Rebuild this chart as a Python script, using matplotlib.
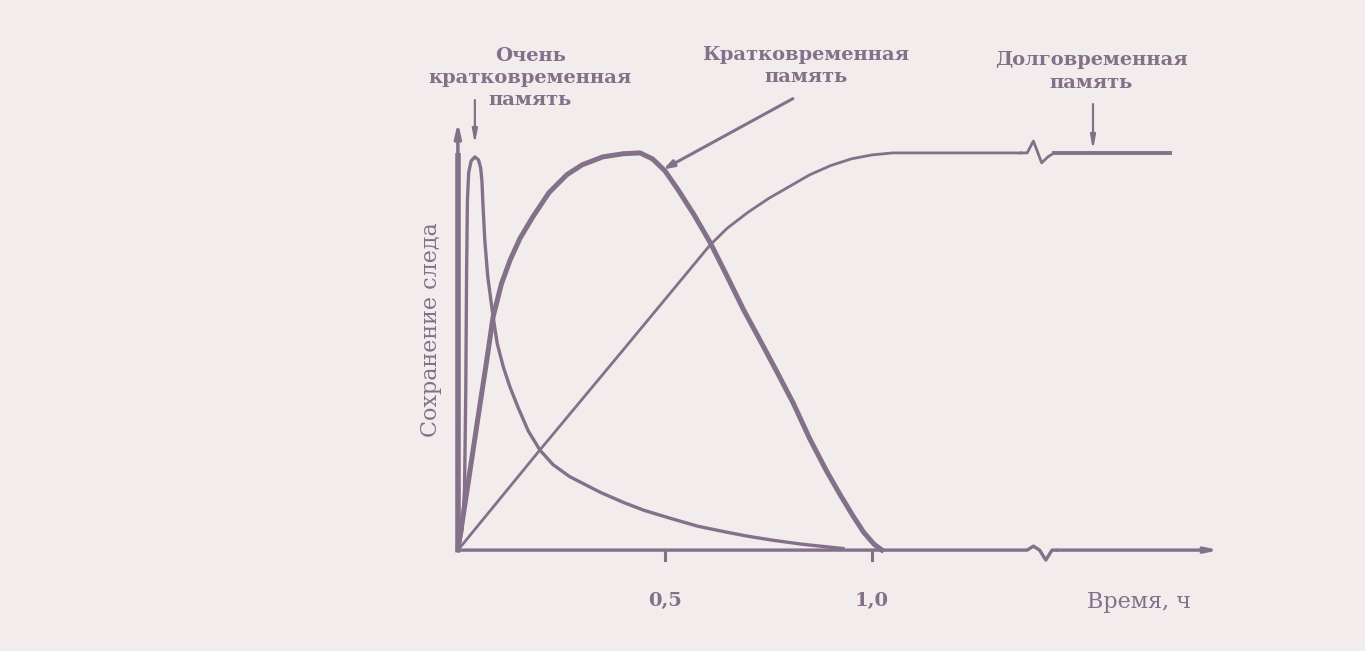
import matplotlib.pyplot as plt

# very short-term memory curve
vs_t = [0, 0.01, 0.016, 0.019, 0.021, 0.023, 0.026, 0.032, 0.041, 0.05, 0.055, 0.058, 0.061,
        0.065, 0.072, 0.085, 0.095, 0.11, 0.126, 0.145, 0.17, 0.198, 0.23, 0.27, 0.343,
        0.4, 0.45, 0.52, 0.58, 0.65, 0.7, 0.76, 0.83, 0.93]
vs_v = [0, 0.05, 0.15, 0.4, 0.7, 0.88, 0.95, 0.98, 0.99, 0.982, 0.962, 0.93, 0.86,
        0.78, 0.69, 0.587, 0.52, 0.46, 0.41, 0.36, 0.3, 0.252, 0.215, 0.185, 0.146,
        0.12, 0.1, 0.078, 0.06, 0.045, 0.035, 0.025, 0.015, 0.004]

# short-term memory curve
st_t = [0, 0.022, 0.048, 0.07, 0.085, 0.105, 0.126, 0.15, 0.181, 0.22, 0.263, 0.3, 0.35, 0.4,
        0.44, 0.47, 0.5, 0.53, 0.57, 0.609, 0.65, 0.69, 0.729, 0.77, 0.81, 0.85, 0.89, 0.923,
        0.955, 0.98, 1.005, 1.024]
st_v = [0, 0.15, 0.33, 0.48, 0.587, 0.67, 0.73, 0.785, 0.839, 0.9, 0.945, 0.97, 0.99, 0.998,
        1.0, 0.985, 0.955, 0.91, 0.845, 0.775, 0.69, 0.605, 0.53, 0.45, 0.37, 0.28, 0.2, 0.14,
        0.085, 0.045, 0.015, 0.0]

# long-term memory curve (before and after the break)
lt_t = [0, 0.198, 0.4, 0.609, 0.65, 0.7, 0.75, 0.8, 0.85, 0.9, 0.95, 1.0, 1.05, 1.36]
lt_v = [0, 0.252, 0.505, 0.768, 0.81, 0.85, 0.885, 0.915, 0.945, 0.968, 0.985, 0.995, 1.0, 1.0]
lt2_t = [1.44, 1.72]
lt2_v = [1.0, 1.0]

tick_pos = [0.5, 1.0]
tick_labels = ['0,5', '1,0']

ink = '#83718a'
paper = '#f3ecec'
plt.rcParams['font.family'] = ['DejaVu Serif']

fig = plt.figure(figsize=(13.65, 6.51), dpi=100, facecolor=paper)
ax = fig.add_axes([0, 0, 1, 1])
ax.set_facecolor(paper)
ax.set_xlim(-1.106, 2.191)
ax.set_ylim(-0.254, 1.385)
ax.axis('off')

# axes
ax.plot([0, 0], [0, 1.0], color=ink, lw=4, solid_capstyle='butt')
ax.annotate('', xy=(0, 1.085), xytext=(0, 0.97),
            arrowprops=dict(arrowstyle='-|>,head_length=0.8,head_width=0.18', color=ink, lw=2.5))
ax.plot([0, 1.375, 1.39, 1.405, 1.42, 1.435, 1.445], [0, 0, 0.01, 0.0, -0.025, 0.0, 0.0],
        color=ink, lw=2.4)
ax.annotate('', xy=(1.845, 0), xytext=(1.44, 0),
            arrowprops=dict(arrowstyle='-|>,head_length=0.7,head_width=0.15', color=ink, lw=2.4))
for tp in tick_pos:
    ax.plot([tp, tp], [0, -0.025], color=ink, lw=2.2)
for tp, tl in zip(tick_pos, tick_labels):
    ax.text(tp, -0.128, tl, ha='center', va='center', fontsize=14, color=ink, fontweight='bold')
ax.text(1.645, -0.13, 'Время, ч', ha='center', va='center', fontsize=16, color=ink)
ax.text(-0.065, 0.554, 'Сохранение следа', rotation=90, ha='center', va='center',
        fontsize=16, color=ink)

# curves
ax.plot(vs_t, vs_v, color=ink, lw=2.4)
ax.plot(st_t, st_v, color=ink, lw=3.6)
ax.plot(lt_t, lt_v, color=ink, lw=2.0)
ax.plot([1.36, 1.375, 1.39, 1.41, 1.425, 1.44], [1.0, 1.0, 1.03, 0.975, 0.99, 1.0], color=ink, lw=2.0)
ax.plot(lt2_t, lt2_v, color=ink, lw=2.8)

# labels
lbl = dict(ha='center', va='center', fontsize=14, color=ink, fontweight='bold', linespacing=1.3)
ax.text(0.175, 1.189, 'Очень\nкратковременная\nпамять', **lbl)
ax.annotate('', xy=(0.041, 1.015), xytext=(0.041, 1.14),
            arrowprops=dict(arrowstyle='-|>,head_length=0.8,head_width=0.15', color=ink, lw=1.6))
ax.text(0.84, 1.219, 'Кратковременная\nпамять', **lbl)
ax.annotate('', xy=(0.49, 0.955), xytext=(0.815, 1.14),
            arrowprops=dict(arrowstyle='-|>,head_length=0.6,head_width=0.2', color=ink, lw=2.2))
ax.text(1.53, 1.205, 'Долговременная\nпамять', **lbl)
ax.annotate('', xy=(1.534, 1.0), xytext=(1.534, 1.13),
            arrowprops=dict(arrowstyle='-|>,head_length=0.8,head_width=0.15', color=ink, lw=1.6))

fig.savefig('out.png', dpi=100, facecolor=paper)
